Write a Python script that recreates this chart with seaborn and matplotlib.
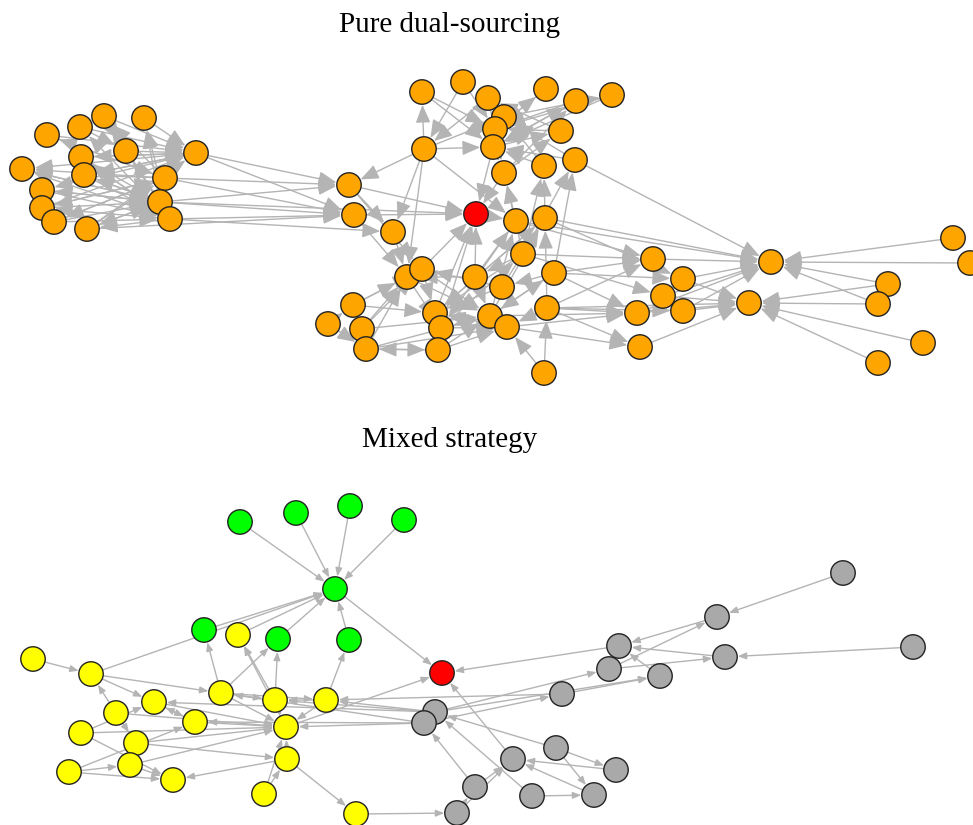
import numpy as np
import pandas as pd
import matplotlib
matplotlib.use("Agg")
import matplotlib.pyplot as plt
from matplotlib.patches import FancyArrowPatch
import seaborn as sns

sns.set_style("white")
plt.rcParams['font.family'] = ['Liberation Serif', 'DejaVu Serif']

# ---------------- data: top panel (Pure dual-sourcing) ----------------
top_names = ["A1","A2","A3","A4","A5","A6","A7","A8","A9","A10","A11","A12","A13","A14","A15","A16",
             "B1","B2",
             "C1","C2","C3","C4","C5","C6","C7","C8","C9","C10","C11","C12","C13","C14","C15","C16","C17",
             "RT",
             "D3","D4","D5","D6","D7","D8","D9","D10","D11","D12","D13","D14","D15","D16","D17","D18","D19",
             "E1","E2","E3","E4","E5","E6","E7","E8","E9","E10","E11","E12","E13","E14"]
top_x = [47,80,104,144,81,126,196,22,84,165,42,160,42,170,54,87,
         349,354,
         422,463,488,504,495,493,424,546,576,612,561,504,544,575,516,545,393,
         476,
         523,554,407,422,475,502,353,328,362,366,435,441,438,490,507,547,544,
         653,683,663,637,683,640,771,749,953,970,888,878,923,878]
top_y = [135,127,116,118,157,151,153,169,175,178,190,202,208,219,222,229,
         185,215,
         92,82,98,117,129,147,149,89,101,95,131,173,166,160,221,218,232,
         214,
         254,273,277,269,277,287,305,324,329,349,313,328,350,316,327,308,373,
         259,279,296,313,311,347,262,303,238,263,284,304,343,363]
top_group = ["supplier"] * len(top_names)
top_group[top_names.index("RT")] = "focal"

top_edges = [
    ("A1","A7"),("A2","A7"),("A3","A7"),("A5","A7"),("A6","A7"),("A9","A7"),("A4","A7"),("A3","A6"),("A2","A6"),
    ("A10","A8"),("A12","A8"),("A7","A8"),("A14","A8"),("A10","A9"),("A12","A9"),("A7","A9"),
    ("A8","A12"),("A11","A12"),("A13","A12"),("A15","A12"),("A16","A12"),("A9","A12"),("A5","A12"),
    ("A10","A15"),("A12","A16"),("A14","A16"),("A14","A13"),("A10","A13"),("A12","A11"),("A7","A11"),
    ("A14","A4"),("A12","A4"),("A10","A3"),("A12","A3"),("A14","A2"),("A16","A10"),("A15","A10"),
    ("A13","A10"),("A1","A10"),("A5","A14"),("A9","A14"),("A6","A14"),("A15","A14"),("A11","A14"),
    ("A7","A5"),("A10","A1"),("A12","A6"),("A14","A5"),("A16","A7"),("A13","A7"),
    ("A7","B1"),("A10","B1"),("A12","B1"),("A10","B2"),("A12","B2"),("A14","B2"),("A7","B2"),
    ("A14","C17"),("A12","RT"),("B1","RT"),("B2","RT"),("A16","B2"),
    ("C7","B1"),("C7","C1"),("C7","C17"),("C7","D5"),("C7","C4"),("C7","C6"),("C1","C5"),("C2","C5"),
    ("C2","C7"),("C3","C12"),("C8","C5"),("C9","C5"),("C10","C5"),("C11","C5"),("C14","C4"),("C13","C4"),
    ("C11","C3"),("C9","C6"),("C10","C6"),("C14","C6"),("C13","C6"),("C6","C12"),("C12","RT"),("C6","RT"),
    ("C5","C8"),("C6","C9"),("C12","C9"),("C4","C10"),("C6","C11"),("C12","C11"),("C1","C6"),("C3","C7"),
    ("D3","C13"),("D3","C14"),("D4","C14"),("C16","C13"),("C15","C12"),("D3","C12"),("RT","C15"),
    ("C15","E7"),("C16","E7"),("B2","D5"),("C17","D5"),("B1","D6"),("B1","C17"),("C7","C15"),
    ("D7","RT"),("D6","RT"),("D9","D6"),("D10","D9"),("D11","D6"),("D12","D5"),("D15","D12"),("D10","D12"),
    ("D9","D5"),("D11","D5"),("D5","D16"),("D6","D16"),("D7","D16"),("D12","D16"),("D15","D17"),
    ("D14","D17"),("D5","D14"),("D6","D13"),("D3","D13"),("C15","D14"),("C16","D13"),("D8","D13"),
    ("D4","D16"),("D18","D17"),("D19","D18"),("D19","D17"),("D18","C16"),("D18","E1"),("D18","E4"),
    ("D18","E8"),("D18","E6"),("D17","E6"),("D16","C15"),("D16","C16"),("D8","C16"),("D7","C15"),
    ("D13","RT"),("D14","RT"),("D4","E1"),("D4","E4"),("D4","E2"),("D3","E1"),("D15","D14"),("D12","D15"),
    ("D13","D15"),("D16","D14"),("D17","D13"),("D8","D6"),("D7","D5"),("D3","D7"),("D4","D8"),
    ("D9","D13"),("D11","D16"),("D12","D17"),("D15","D16"),("D14","D3"),("D13","C16"),("D16","D4"),
    ("E1","E7"),("E2","E7"),("E3","E7"),("E5","E7"),("E4","E7"),("E3","E8"),("E4","E8"),("E5","E8"),
    ("E6","E8"),("E2","E8"),("E9","E7"),("E10","E7"),("E11","E7"),("E12","E7"),("E11","E8"),("E12","E8"),
    ("E13","E8"),("E14","E8"),("C16","E2"),("D17","E4"),("D16","E4"),("C15","E1"),("D3","E3"),
    ("C14","E7"),("D18","E5"),
]

# ---------------- data: bottom panel (Mixed strategy) ----------------
bot_names = ["G1","G2","G3","G4","Gh","G5","G6","G7",
             "R",
             "Y1","Y2","Y3","Y4","Y5","Y6","Y7","Y8","Y9","Y10","Y11","Y12","Y13","Y14","Y15","Y16","Y17","Y18",
             "Gr1","Gr2","Gr3","Gr4","Gr5","Gr6","Gr7","Gr8","Gr9","Gr10","Gr11","Gr12","Gr13","Gr14","Gr15","Gr16","Gr17"]
bot_x = [240,296,350,404,335,204,278,349,
         442,
         33,91,238,221,154,116,195,275,326,286,81,136,130,69,173,287,264,356,
         843,717,619,725,913,609,660,562,435,424,556,513,616,475,532,594,457]
bot_y = [522,513,506,520,589,630,639,640,
         673,
         659,674,635,693,702,713,722,700,700,727,733,743,765,772,780,759,794,814,
         573,617,646,657,647,669,676,694,712,723,748,759,770,787,796,795,813]
bot_group = (["green"] * 8 + ["focal"] + ["yellow"] * 18 + ["grey"] * 17)

bot_edges = [
    ("G1","Gh"),("G2","Gh"),("G3","Gh"),("G4","Gh"),("Gh","R"),("G5","Gh"),("Y3","Gh"),("Y2","Gh"),
    ("G6","Gh"),("G7","Gh"),("Y9","G7"),("Y4","G5"),("Y8","Y3"),("Y10","Y3"),("Y4","G6"),("Y8","G6"),
    ("Y1","Y2"),("Y2","Y4"),("Y2","Y5"),("Y6","Y2"),("Y6","Y10"),("Y5","Y10"),("Y7","Y10"),("Y11","Y10"),
    ("Y12","Y10"),("Y4","Y10"),("Y8","Y10"),("Y10","R"),("Y9","Y10"),("Y16","Y10"),("Y17","Y16"),
    ("Y17","Y10"),("Y16","Y18"),("Y18","Gr17"),("Y16","Y15"),("Y13","Y15"),("Y14","Y15"),("Y14","Y13"),
    ("Y11","Y15"),("Y14","Y7"),("Y6","Y12"),("Y5","Y7"),("Y12","Y16"),("Y13","Y10"),("Y4","Y8"),
    ("Y9","Y8"),("Y11","Y5"),("Y7","Y5"),("Y4","Y9"),
    ("Gr9","Y8"),("Gr9","Y9"),("Gr10","Y10"),("Gr9","Y5"),("Gr10","Y4"),("Gr8","Y9"),("Gr10","Y7"),
    ("Gr1","Gr2"),("Gr2","Gr3"),("Gr6","Gr2"),("Gr5","Gr4"),("Gr4","Gr3"),("Gr3","R"),("Gr7","Gr3"),
    ("Gr6","Gr4"),("Gr8","Gr7"),("Gr9","Gr7"),("Gr9","Gr6"),("Gr10","Gr8"),("Gr11","Gr9"),("Gr11","Gr16"),
    ("Gr11","Gr13"),("Gr13","Gr12"),("Gr16","Gr12"),("Gr15","Gr16"),("Gr14","Gr12"),("Gr17","Gr14"),
    ("Gr17","Gr12"),("Gr14","Gr10"),("Gr15","Gr9"),("Gr12","R"),
]

palette = {"supplier": "#FFA500", "focal": "#FF0000", "green": "#00FF00",
           "yellow": "#FFFF00", "grey": "#A9A9A9"}

W, H = 973, 825
fig = plt.figure(figsize=(W / 100, H / 100), dpi=100)
split = 412
ax_top = fig.add_axes([0, 1 - split / H, 1, split / H])
ax_bot = fig.add_axes([0, 0, 1, 1 - split / H])


def draw_network(ax, names, xs, ys, groups, edges, head, ylim, title, title_y):
    df = pd.DataFrame({"name": names, "x": xs, "y": ys, "group": groups})
    pos = {n: (x, y) for n, x, y in zip(names, xs, ys)}
    for s, t in edges:
        arr = FancyArrowPatch(pos[s], pos[t], arrowstyle=head, shrinkA=0, shrinkB=9.2,
                              color="#b4b4b4", lw=1.0, mutation_scale=10, zorder=1)
        ax.add_patch(arr)
    sns.scatterplot(data=df, x="x", y="y", hue="group", palette=palette, s=310,
                    edgecolor="#222222", linewidth=1.0, legend=False, ax=ax, zorder=3)
    ax.set_xlim(0, W)
    ax.set_ylim(*ylim)
    ax.set_axis_off()
    ax.text(0.5 * W - 37, title_y, title, ha="center", va="center", fontsize=21, color="black")


draw_network(ax_top, top_names, top_x, top_y, top_group, top_edges,
             "-|>,head_length=1.1,head_width=0.45", (split, 0), "Pure dual-sourcing", 25)
draw_network(ax_bot, bot_names, bot_x, bot_y, bot_group, bot_edges,
             "-|>,head_length=0.5,head_width=0.2", (H, split), "Mixed strategy", 440)

fig.savefig("out.png", dpi=100)
